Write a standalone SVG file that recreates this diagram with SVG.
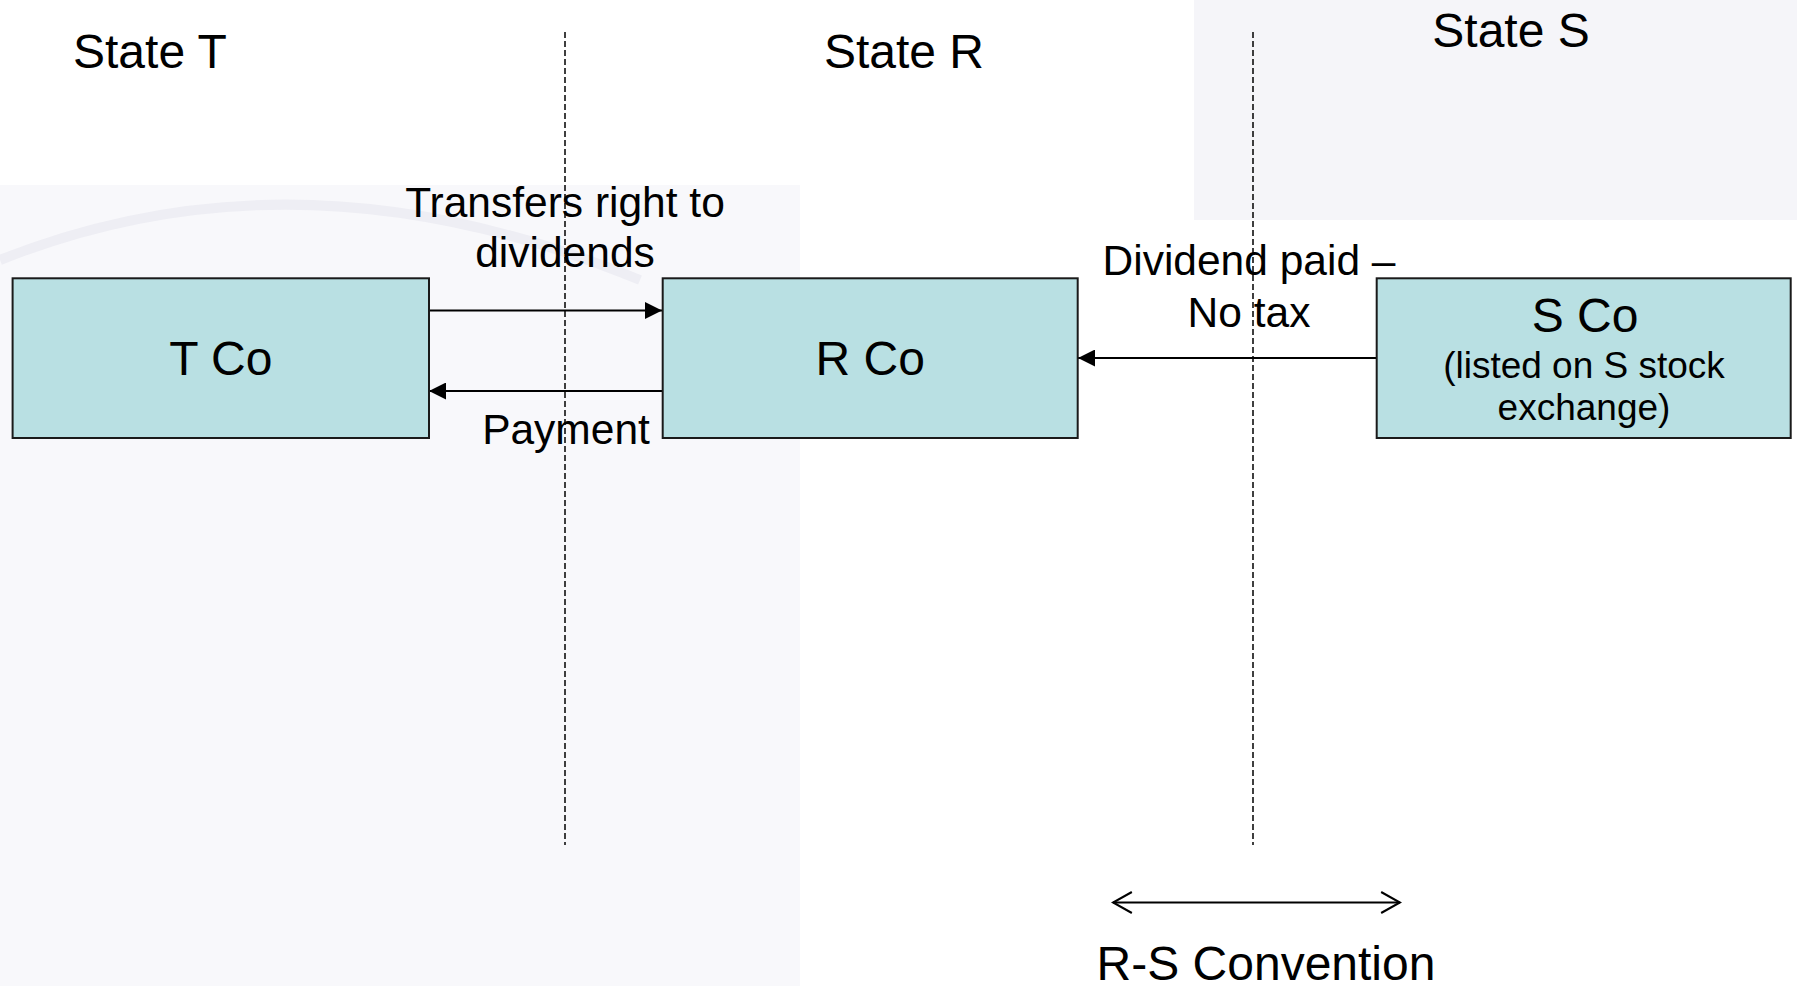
<svg xmlns="http://www.w3.org/2000/svg" width="1797" height="986" viewBox="0 0 1797 986">
  <style>
    text { font-family: "Liberation Sans", Arial, sans-serif; fill: #000; }
    .state { font-size: 48px; }
    .node { font-size: 48px; text-anchor: middle; }
    .sub { font-size: 37px; text-anchor: middle; }
    .lbl { font-size: 42.5px; text-anchor: middle; }
    .box { fill: #b9e0e3; stroke: #1a1a1a; stroke-width: 2; }
    .conn { stroke: #000; stroke-width: 2; fill: none; }
    .border { stroke: #000; stroke-width: 1.5; stroke-dasharray: 6 3; fill: none; }
  </style>
  <defs>
    <marker id="solid" markerUnits="userSpaceOnUse" markerWidth="17" markerHeight="17" viewBox="0 0 16 16" refX="16" refY="8" orient="auto">
      <path d="M0,0 L16,8 L0,16 Z" fill="#000"/>
    </marker>
    <marker id="open" markerUnits="userSpaceOnUse" markerWidth="22" markerHeight="24" viewBox="-1 -1 21 22" refX="18" refY="10" orient="auto-start-reverse">
      <path d="M0,0 L18,10 L0,20" fill="none" stroke="#000" stroke-width="2"/>
    </marker>
  </defs>

  <rect width="1797" height="986" fill="#ffffff"/>
  <g id="background">
    <rect x="0" y="185" width="800" height="801" fill="#f8f8fb"/>
    <path d="M0,260 Q300,140 640,280" fill="none" stroke="#eeeef4" stroke-width="10"/>
    <rect x="1194" y="0" width="603" height="220" fill="#f5f5f9"/>
  </g>

  <g id="states">
    <text class="state" x="73" y="68">State T</text>
    <text class="state" x="904" y="68" text-anchor="middle">State R</text>
    <text class="state" x="1511" y="47" text-anchor="middle">State S</text>
  </g>

  <g id="borders">
    <line class="border" x1="565" y1="32" x2="565" y2="845"/>
    <line class="border" x1="1253" y1="32" x2="1253" y2="845"/>
  </g>

  <g id="connectors">
    <line class="conn" x1="429" y1="310.5" x2="662" y2="310.5" marker-end="url(#solid)"/>
    <line class="conn" x1="662" y1="391" x2="429" y2="391" marker-end="url(#solid)"/>
    <line class="conn" x1="1377" y1="358" x2="1078" y2="358" marker-end="url(#solid)"/>
    <line class="conn" x1="1113" y1="902.5" x2="1400" y2="902.5" marker-start="url(#open)" marker-end="url(#open)"/>
    <text class="lbl" x="565" y="217">Transfers right to</text>
    <text class="lbl" x="565" y="267">dividends</text>
    <text class="lbl" x="566" y="444">Payment</text>
    <text class="lbl" x="1249" y="275">Dividend paid –</text>
    <text class="lbl" x="1249" y="327">No tax</text>
    <text class="state" x="1266" y="980" text-anchor="middle">R-S Convention</text>
  </g>

  <g id="tco">
    <rect class="box" x="12.6" y="278.3" width="416.4" height="159.7"/>
    <text class="node" x="220.8" y="375">T Co</text>
  </g>
  <g id="rco">
    <rect class="box" x="662.7" y="278.3" width="415" height="159.7"/>
    <text class="node" x="870.2" y="375">R Co</text>
  </g>
  <g id="sco">
    <rect class="box" x="1376.7" y="278.3" width="414" height="159.7"/>
    <text class="node" x="1585" y="331.5">S Co</text>
    <text class="sub" x="1584" y="378">(listed on S stock</text>
    <text class="sub" x="1584" y="420">exchange)</text>
  </g>
</svg>
